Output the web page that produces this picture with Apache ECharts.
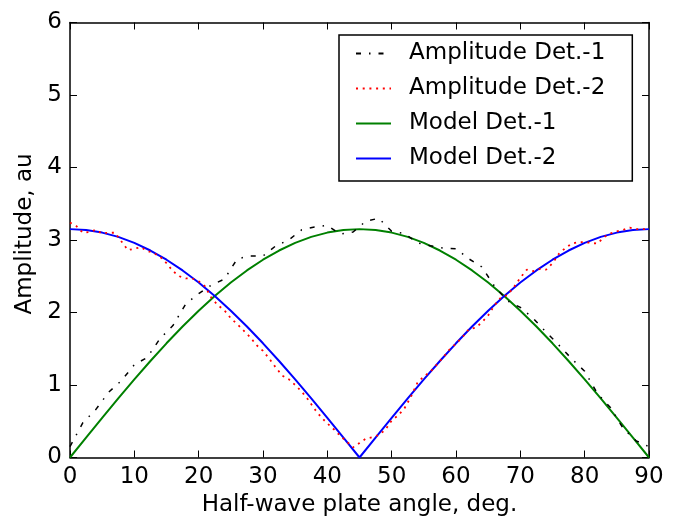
<!DOCTYPE html>
<html>
<head>
<meta charset="utf-8">
<script src="https://cdn.jsdelivr.net/npm/echarts@6/dist/echarts.min.js"></script>
<style>html,body{margin:0;padding:0;background:#fff;}#c{width:674px;height:522px;}</style>
</head>
<body>
<div id="c"></div>
<script>
// ---- data ----
var anglesDet1 = [0,2,4,6,8,10,12,14,16,18,20,22,24,26,28,30,32,34,36,38,40,42,44,46,48,50,52,54,56,58,60,62,64,66,68,70,72,74,76,78,80,82,84,86,88,90];
var ampDet1 = [0.15,0.48,0.66,0.90,1.06,1.28,1.38,1.64,1.82,2.12,2.26,2.38,2.46,2.74,2.78,2.78,2.92,3.00,3.14,3.18,3.20,3.08,3.11,3.26,3.30,3.12,3.09,2.96,2.92,2.89,2.88,2.74,2.63,2.36,2.16,2.07,1.92,1.73,1.55,1.36,1.19,0.88,0.69,0.40,0.23,0.15];

var anglesDet2 = [0,1,2,3,4,5,6,7,8,9,10,11,12,13,14,15,16,17,18,19,20,21,22,23,24,25,26,27,28,29,30,31,32,33,34,35,36,37,38,39,40,41,42,43,44,45,46,47,48,49,50,51,52,53,54,55,56,57,58,59,60,61,62,63,64,65,66,67,68,69,70,71,72,73,74,75,76,77,78,79,80,81,82,83,84,85,86,87,88,89,90];
var ampDet2 = [3.24,3.19,3.10,3.11,3.14,3.09,3.10,3.10,2.98,2.86,2.88,2.90,2.85,2.82,2.77,2.68,2.57,2.50,2.47,2.47,2.43,2.36,2.20,2.10,2.03,1.92,1.84,1.75,1.66,1.55,1.47,1.36,1.24,1.13,1.08,1.00,0.91,0.80,0.67,0.56,0.47,0.39,0.30,0.22,0.14,0.20,0.26,0.28,0.31,0.38,0.51,0.58,0.68,0.84,1.03,1.12,1.18,1.28,1.38,1.49,1.57,1.66,1.77,1.79,1.86,1.96,2.10,2.21,2.24,2.35,2.48,2.59,2.57,2.60,2.59,2.68,2.81,2.89,2.95,2.97,2.97,2.96,2.95,3.04,3.09,3.12,3.14,3.17,3.15,3.15,3.15];

var anglesModel = [0,2.5,5,7.5,10,12.5,15,17.5,20,22.5,25,27.5,30,32.5,35,37.5,40,42.5,45,47.5,50,52.5,55,57.5,60,62.5,65,67.5,70,72.5,75,77.5,80,82.5,85,87.5,90];
var modelDet1 = [0,0.275,0.547,0.815,1.077,1.331,1.575,1.807,2.025,2.227,2.413,2.580,2.728,2.855,2.960,3.043,3.102,3.138,3.150,3.138,3.102,3.043,2.960,2.855,2.728,2.580,2.413,2.227,2.025,1.807,1.575,1.331,1.077,0.815,0.547,0.275,0];
var modelDet2 = [3.150,3.138,3.102,3.043,2.960,2.855,2.728,2.580,2.413,2.227,2.025,1.807,1.575,1.331,1.077,0.815,0.547,0.275,0,0.275,0.547,0.815,1.077,1.331,1.575,1.807,2.025,2.227,2.413,2.580,2.728,2.855,2.960,3.043,3.102,3.138,3.150];

var seriesNames = ['Amplitude Det.-1','Amplitude Det.-2','Model Det.-1','Model Det.-2'];
var xTicks = [0,10,20,30,40,50,60,70,80,90];
var yTicks = [0,1,2,3,4,5,6];

function pairs(xs, ys){ return xs.map(function(x,i){ return [x, ys[i]]; }); }

var FONT = 'DejaVu Sans';
var FS = 23;
var chart = echarts.init(document.getElementById('c'), null, {renderer:'canvas'});

function xAx(pos, showLabel){
  return {
    type:'value', position:pos, min:xTicks[0], max:xTicks[xTicks.length-1], interval:10,
    axisLine:{show:true, onZero:false, lineStyle:{color:'#000', width:1.5}},
    axisTick:{show:true, inside:true, length:7, lineStyle:{color:'#000', width:1}},
    axisLabel:{show:showLabel, color:'#000', fontFamily:FONT, fontSize:FS, margin:8},
    splitLine:{show:false},
    name: showLabel ? 'Half-wave plate angle, deg.' : '',
    nameLocation:'middle', nameGap:33,
    nameTextStyle:{color:'#000', fontFamily:FONT, fontSize:FS}
  };
}
function yAx(pos, showLabel){
  return {
    type:'value', position:pos, min:yTicks[0], max:yTicks[yTicks.length-1], interval:1,
    axisLine:{show:true, onZero:false, lineStyle:{color:'#000', width:1.5}},
    axisTick:{show:true, inside:true, length:7, lineStyle:{color:'#000', width:1}},
    axisLabel:{show:showLabel, color:'#000', fontFamily:FONT, fontSize:FS, margin:8},
    splitLine:{show:false},
    name: showLabel ? 'Amplitude, au' : '',
    nameLocation:'middle', nameGap:31,
    nameTextStyle:{color:'#000', fontFamily:FONT, fontSize:FS, padding:[0,0,0,12]}
  };
}

chart.setOption({
  animation:false,
  backgroundColor:'#fff',
  grid:{left:70, right:25, top:22.5, bottom:64.5, containLabel:false},
  xAxis:[xAx('bottom', true), xAx('top', false)],
  yAxis:[yAx('left', true), yAx('right', false)],
  legend:{
    orient:'vertical', left:339, top:35,
    padding:[7,27,11,16],
    borderColor:'#000', borderWidth:1.5, backgroundColor:'#fff',
    itemWidth:35, itemHeight:14, itemGap:12,
    itemStyle:{opacity:0},
    textStyle:{color:'#000', fontFamily:FONT, fontSize:FS, lineHeight:23, padding:[0,0,0,13]},
    data:seriesNames
  },
  series:[
    {name:seriesNames[0], type:'line', data:pairs(anglesDet1, ampDet1), showSymbol:false, symbol:'none',
     lineStyle:{color:'#000', width:1.5, type:[5,8,1.5,8]}, itemStyle:{color:'#000'}, z:3},
    {name:seriesNames[1], type:'line', data:pairs(anglesDet2, ampDet2), showSymbol:false, symbol:'none',
     lineStyle:{color:'#ff0000', width:1.8, type:[2,4.7]}, itemStyle:{color:'#ff0000'}, z:3},
    {name:seriesNames[2], type:'line', data:pairs(anglesModel, modelDet1), showSymbol:false, symbol:'none',
     lineStyle:{color:'#008000', width:2}, itemStyle:{color:'#008000'}, z:2},
    {name:seriesNames[3], type:'line', data:pairs(anglesModel, modelDet2), showSymbol:false, symbol:'none',
     lineStyle:{color:'#0000ff', width:2}, itemStyle:{color:'#0000ff'}, z:2}
  ]
});
</script>
</body>
</html>
